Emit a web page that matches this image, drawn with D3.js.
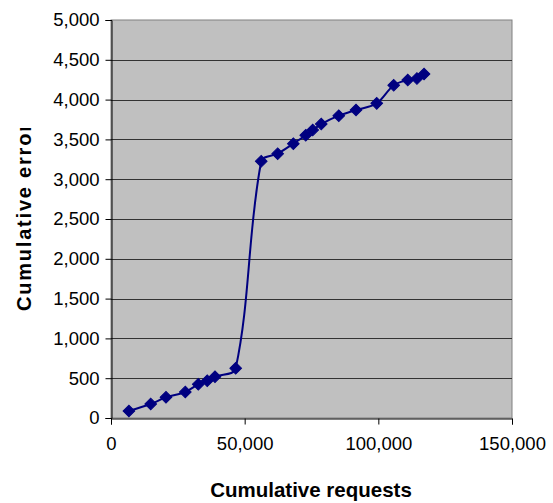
<!DOCTYPE html>
<html>
<head>
<meta charset="utf-8">
<script src="https://cdn.jsdelivr.net/npm/d3@7"></script>
<style>
  body { margin: 0; background: #fff; }
  text { font-family: "Liberation Sans", Arial, sans-serif; }
</style>
</head>
<body>
<div id="chart"></div>
<script>
// cumulative requests vs cumulative errors
let requests = [6700, 14850, 20570, 27800, 32650, 36000, 38900, 46650,
  56200, 62350, 68200, 72850, 75450, 78650, 85200, 91650, 99400,
  105750, 111000, 114450, 117100];
let errors = [88, 176, 260, 327, 423, 469, 519, 624,
  3225, 3320, 3446, 3552, 3618, 3693, 3798, 3869, 3953,
  4180, 4246, 4265, 4322];

let xTicks = [0, 50000, 100000, 150000];
let yTicks = [0, 500, 1000, 1500, 2000, 2500, 3000, 3500, 4000, 4500, 5000];

let width = 553, height = 503;
let plot = {left: 111, top: 20, right: 512, bottom: 418};

let svg = d3.select("#chart").append("svg")
  .attr("width", width)
  .attr("height", height);

let x = d3.scaleLinear().domain([0, 150000]).range([plot.left, plot.right]);
let y = d3.scaleLinear().domain([0, 5000]).range([plot.bottom, plot.top]);
let fmt = d3.format(",");

// gray plot area
svg.append("rect")
  .attr("x", plot.left).attr("y", plot.top)
  .attr("width", plot.right - plot.left)
  .attr("height", plot.bottom - plot.top)
  .attr("fill", "#c0c0c0")
  .attr("stroke", "#808080")
  .attr("stroke-width", 1);

// gridlines
svg.append("g").selectAll("line")
  .data(yTicks.slice(1, -1))
  .enter().append("line")
  .attr("x1", plot.left).attr("x2", plot.right)
  .attr("y1", d => Math.round(y(d)) + 0.5)
  .attr("y2", d => Math.round(y(d)) + 0.5)
  .attr("stroke", "#333")
  .attr("stroke-width", 1);

// axes
let yAxis = svg.append("g")
  .attr("transform", "translate(" + (plot.left + 0.5) + ",0)")
  .call(d3.axisLeft(y).tickValues(yTicks).tickFormat(fmt).tickSize(6).tickPadding(6));
let xAxis = svg.append("g")
  .attr("transform", "translate(0," + (plot.bottom + 0.5) + ")")
  .call(d3.axisBottom(x).tickValues(xTicks).tickFormat(fmt).tickSize(6).tickPadding(12));
[xAxis, yAxis].forEach(a => {
  a.select(".domain").attr("stroke", "#000");
  a.selectAll(".tick line").attr("stroke", "#000");
  a.selectAll(".tick text")
    .attr("fill", "#000")
    .style("font-size", "18.5px")
    .style("font-family", "'Liberation Sans', Arial, sans-serif");
});

let pts = requests.map((r, i) => [r, errors[i]]);

// smoothed line, excel style: tangent along neighbours, arm = segment/3
function smoothPath(data) {
  let p = data.map(d => [x(d[0]), y(d[1])]);
  let n = p.length;
  let tan = p.map((d, i) => {
    let a = p[Math.max(i - 1, 0)], b = p[Math.min(i + 1, n - 1)];
    let dx = b[0] - a[0], dy = b[1] - a[1], l = Math.hypot(dx, dy);
    return [dx / l, dy / l];
  });
  let path = d3.path();
  path.moveTo(p[0][0], p[0][1]);
  for (let i = 0; i < n - 1; ++i) {
    let L = Math.hypot(p[i + 1][0] - p[i][0], p[i + 1][1] - p[i][1]) / 3;
    path.bezierCurveTo(
      p[i][0] + tan[i][0] * L, p[i][1] + tan[i][1] * L,
      p[i + 1][0] - tan[i + 1][0] * L, p[i + 1][1] - tan[i + 1][1] * L,
      p[i + 1][0], p[i + 1][1]);
  }
  return path.toString();
}
svg.append("path")
  .attr("d", smoothPath(pts))
  .attr("fill", "none")
  .attr("stroke", "#000080")
  .attr("stroke-width", 2);

// diamond markers
let diamond = d3.symbol().type(d3.symbolSquare).size(68);
svg.append("g").selectAll("path")
  .data(pts)
  .enter().append("path")
  .attr("d", diamond)
  .attr("transform", d => "translate(" + x(d[0]) + "," + y(d[1]) + ") rotate(45)")
  .attr("fill", "#000080")
  .attr("stroke", "#000080")
  .attr("stroke-width", 1);

// axis titles
svg.append("text")
  .attr("x", 311).attr("y", 497)
  .attr("text-anchor", "middle")
  .style("font-size", "20.5px")
  .style("font-weight", "bold")
  .text("Cumulative requests");

// the y title is cut off at the top in the original
svg.append("clipPath").attr("id", "yclip")
  .append("rect").attr("x", 0).attr("y", 128).attr("width", 40).attr("height", 300);
svg.append("g")
  .attr("clip-path", "url(#yclip)")
  .append("text")
  .attr("transform", "translate(31,311) rotate(-90)")
  .attr("text-anchor", "start")
  .attr("textLength", 187)
  .attr("lengthAdjust", "spacing")
  .style("font-size", "20px")
  .style("font-weight", "bold")
  .text("Cumulative error");
</script>
</body>
</html>
